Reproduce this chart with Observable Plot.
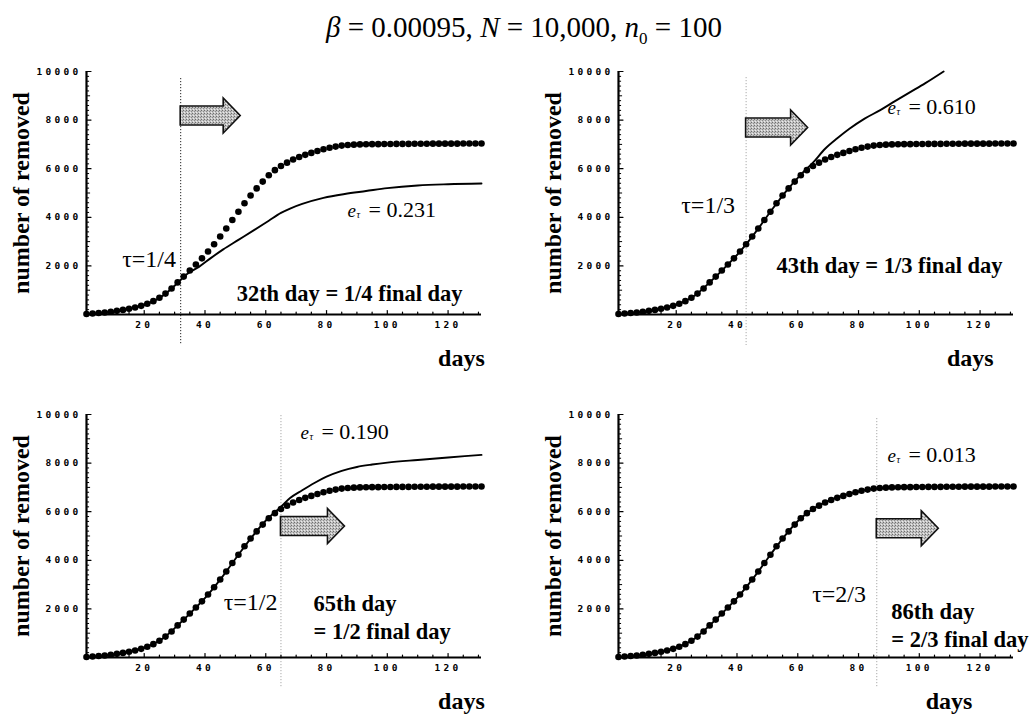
<!DOCTYPE html>
<html>
<head>
<meta charset="utf-8">
<script src="https://cdn.jsdelivr.net/npm/d3@7"></script>
<script src="https://cdn.jsdelivr.net/npm/@observablehq/plot@0.6"></script>
<style>
  body { margin: 0; background: #fff; }
  #fig { position: relative; width: 1034px; height: 715px; overflow: hidden;
         font-family: "Liberation Serif", "Times New Roman", serif; color: #000; }
  #title { position: absolute; left: 0; width: 1048px; top: 10px; text-align: center;
           font-size: 29px; line-height: 34px; white-space: nowrap; z-index: 2; }
  #title sub { font-size: 17px; }
  .panel { position: absolute; }
  .panel svg { overflow: visible; }
  [aria-label="x-axis tick label"] text,
  [aria-label="y-axis tick label"] text { letter-spacing: 3.3px; }
</style>
</head>
<body>
<div id="fig">
  <div id="title"><i>β</i> = 0.00095, <i>N</i> = 10,000, <i>n</i><sub>0</sub> = 100</div>
</div>
<script>
// Observed cumulative number of removed, sampled every other day
const obsDays = [1, 3, 5, 7, 9, 11, 13, 15, 17, 19, 21, 23, 25, 27, 29, 31, 33, 35, 37, 39,
  41, 43, 45, 47, 49, 51, 53, 55, 57, 59, 61, 63, 65, 67, 69, 71, 73, 75, 77, 79,
  81, 83, 85, 87, 89, 91, 93, 95, 97, 99, 101, 103, 105, 107, 109, 111, 113, 115, 117, 119,
  121, 123, 125, 127, 129, 131];
const obsRemoved = [20, 40, 60, 85, 115, 150, 190, 235, 290, 355, 440, 550, 690, 860, 1070, 1320, 1560, 1810, 2060, 2310,
  2590, 2890, 3210, 3540, 3890, 4230, 4580, 4900, 5190, 5470, 5730, 5940, 6110, 6250, 6380, 6480, 6570, 6650, 6730, 6800,
  6860, 6910, 6950, 6975, 6990, 7000, 7005, 7010, 7010, 7015, 7015, 7020, 7020, 7020, 7025, 7025, 7025, 7030, 7030, 7030,
  7030, 7030, 7035, 7035, 7035, 7035];

// Model curves fitted on data up to the cut-off day (tau = 1/4, 1/3, 1/2, 2/3)
const fitDays1 = [1, 6, 11, 16, 21, 26, 30, 34, 38, 42, 46, 51, 56, 61, 65, 68, 72, 79, 86, 93, 100, 110, 120, 131];
const fitVals1 = [20, 70, 150, 260, 430, 760, 1180, 1660, 1960, 2330, 2680, 3070, 3460, 3860, 4180, 4360, 4550, 4800, 4960, 5080, 5200, 5310, 5360, 5390];

const fitDays2 = [1, 6, 11, 16, 21, 26, 31, 36, 41, 46, 51, 56, 61, 65, 69, 73, 77, 82, 87, 92, 97, 102, 108];
const fitVals2 = [20, 70, 150, 260, 440, 770, 1320, 1930, 2590, 3370, 4230, 5050, 5760, 6250, 6820, 7250, 7640, 8060, 8400, 8780, 9150, 9520, 10000];

const fitDays3 = [1, 6, 11, 16, 21, 26, 31, 36, 41, 46, 51, 56, 61, 65, 68, 72, 76, 80, 85, 90, 95, 100, 110, 120, 131];
const fitVals3 = [20, 70, 150, 260, 440, 770, 1320, 1930, 2590, 3370, 4230, 5050, 5760, 6200, 6560, 6880, 7180, 7440, 7680, 7840, 7940, 8020, 8130, 8230, 8340];

const fitDays4 = [1, 6, 11, 16, 21, 26, 31, 36, 41, 46, 51, 56, 61, 66, 71, 76, 81, 86, 91, 100, 110, 120, 131];
const fitVals4 = [20, 70, 150, 260, 440, 770, 1320, 1930, 2590, 3370, 4230, 5050, 5730, 6190, 6500, 6700, 6860, 6960, 7010, 7030, 7040, 7040, 7040];

// Per-panel parameters
const tauLabels = ["τ=1/4", "τ=1/3", "τ=1/2", "τ=2/3"];
const cutDays = [32, 43, 65, 86];
const errValues = ["0.231", "0.610", "0.190", "0.013"];
const dayNotes = [["32th day = 1/4 final day"], ["43th day = 1/3 final day"],
                  ["65th day", "= 1/2 final day"], ["86th day", "= 2/3 final day"]];

const yTicks = [2000, 4000, 6000, 8000, 10000];
const xTicks = [20, 40, 60, 80, 100, 120];

const obs = obsDays.map((d, i) => ({day: d, value: obsRemoved[i]}));
const fits = [[fitDays1, fitVals1], [fitDays2, fitVals2], [fitDays3, fitVals3], [fitDays4, fitVals4]]
  .map(([ds, vs]) => ds.map((d, i) => ({day: d, value: vs[i]})));

// Placement of the annotations of each panel, in data units
const layout = [
  {left: 0,   top: 50,  tau: [21.6, 2284], note: {x: 87.6, y: [844], anchor: "middle"},
   err: [86.9, 4300], arrow: [8170, 60], daysX: 124.4, daysDy: 51, ruleColor: "#222", ruleTop: 7},
  {left: 532, top: 50,  tau: [30.5, 4486], note: {x: 90.2, y: [2016], anchor: "middle"},
   err: [89.5, 8560], arrow: [7675, 62], daysX: 116.8, daysDy: 51, ruleColor: "#aaa", ruleTop: 6},
  {left: 0,   top: 393, tau: [55.0, 2263], note: {x: 75.7, y: [2222, 1070], anchor: "start"},
   err: [71.4, 9300], arrow: [5390, 64], daysX: 124.4, daysDy: 51, ruleColor: "#aaa", ruleTop: 1},
  {left: 532, top: 393, tau: [73.6, 2613], note: {x: 90.8, y: [1893, 741], anchor: "start"},
   err: [89.5, 8354], arrow: [5300, 62], daysX: 109.8, daysDy: 51, ruleColor: "#aaa", ruleTop: 4}
];

const serif = "Liberation Serif, Times New Roman, serif";
const mono = "DejaVu Sans Mono, Liberation Mono, monospace";

// Plain tick stroke for Plot.vector
const tickShape = {draw(context, l) { context.moveTo(0, 0); context.lineTo(0, -l); }};

// Grey stippled block arrow pointing right, starting at the cut-off day
function blockArrow(day, level, len, id) {
  return (index, scales) => {
    const x0 = scales.x(day), y0 = scales.y(level);
    const bh = 9.5, hh = 17.5, hl = 17;
    const g = d3.create("svg:g");
    const pat = g.append("defs").append("pattern")
      .attr("id", id).attr("width", 3).attr("height", 3).attr("patternUnits", "userSpaceOnUse");
    pat.append("rect").attr("width", 3).attr("height", 3).attr("fill", "#c2c2c2");
    pat.append("rect").attr("x", 0).attr("y", 0).attr("width", 1).attr("height", 1).attr("fill", "#6e6e6e");
    pat.append("rect").attr("x", 2).attr("y", 1).attr("width", 1).attr("height", 1).attr("fill", "#8c8c8c");
    pat.append("rect").attr("x", 1).attr("y", 2).attr("width", 1).attr("height", 1).attr("fill", "#ececec");
    const pts = [[x0, y0 - bh], [x0 + len - hl, y0 - bh], [x0 + len - hl, y0 - hh], [x0 + len, y0],
                 [x0 + len - hl, y0 + hh], [x0 + len - hl, y0 + bh], [x0, y0 + bh]];
    g.append("path")
      .attr("d", "M" + pts.map(p => p.join(",")).join("L") + "Z")
      .attr("fill", `url(#${id})`).attr("stroke", "#111").attr("stroke-width", 1.6)
      .attr("stroke-linejoin", "miter");
    return g.node();
  };
}

// Tick positions along the axes
const yMinor = d3.range(200, 10001, 200).filter(d => d % 1000 !== 0);
const yMid = d3.range(1000, 10001, 2000);
const xMinor = d3.range(5, 131, 5).filter(d => d % 20 !== 0);

const fig = document.getElementById("fig");

layout.forEach((L, k) => {
  const cut = cutDays[k];
  const marks = [
    // cut-off day
    Plot.ruleX([cut], {stroke: L.ruleColor, strokeWidth: 1, strokeDasharray: "1.2,1.8",
                       insetTop: L.ruleTop, insetBottom: -31}),
    // axis lines and small inward ticks
    Plot.ruleX([1], {stroke: "#000", strokeWidth: 2.2}),
    Plot.ruleY([0], {stroke: "#000", strokeWidth: 2.2}),
    Plot.vector(yMinor, {x: 1, y: d => d, rotate: 90, anchor: "start", shape: tickShape,
      length: 2.2, stroke: "#000", strokeWidth: 1}),
    Plot.vector(yMid, {x: 1, y: d => d, rotate: 90, anchor: "start", shape: tickShape,
      length: 3.2, stroke: "#000", strokeWidth: 1}),
    Plot.vector(yTicks, {x: 1, y: d => d, rotate: 90, anchor: "start", shape: tickShape,
      length: 4.5, stroke: "#000", strokeWidth: 1.2}),
    Plot.vector(xMinor, {x: d => d, y: 0, rotate: 0, anchor: "start", shape: tickShape,
      length: 2.5, stroke: "#000", strokeWidth: 1.2}),
    Plot.vector(xTicks, {x: d => d, y: 0, rotate: 0, anchor: "start", shape: tickShape,
      length: 4, stroke: "#000", strokeWidth: 1.2}),
    Plot.axisY({ticks: yTicks, tickSize: 0, tickPadding: 5, tickFormat: d => String(d), label: null,
      fontFamily: mono, fontWeight: "bold", fontSize: 9.5}),
    Plot.axisX({ticks: xTicks, tickSize: 0, tickPadding: 7, tickFormat: d => String(d), label: null,
      fontFamily: mono, fontWeight: "bold", fontSize: 9.5}),
    // model curve and observations
    Plot.line(fits[k], {x: "day", y: "value", stroke: "#000", strokeWidth: 1.9, curve: "monotone-x"}),
    Plot.dot(obs, {x: "day", y: "value", r: 3.3, fill: "#000", stroke: "none"}),
    // arrow
    blockArrow(cut, L.arrow[0], L.arrow[1], "stipple" + k),
    // labels
    Plot.text(["number of removed"], {x: [-20.5], rotate: -90, textAnchor: "middle", lineAnchor: "middle",
      fontFamily: serif, fontWeight: "bold", fontSize: 24}),
    Plot.text(["days"], {x: [L.daysX], frameAnchor: "bottom", lineAnchor: "bottom", dy: L.daysDy,
      fontFamily: serif, fontWeight: "bold", fontSize: 24}),
    Plot.text([tauLabels[k]], {x: [L.tau[0]], y: [L.tau[1]], fontFamily: serif, fontSize: 24}),
    Plot.text(dayNotes[k], {x: L.note.x, y: (d, i) => L.note.y[i], textAnchor: L.note.anchor,
      fontFamily: serif, fontWeight: "bold", fontSize: 22.5}),
    Plot.text(["e"], {x: [L.err[0]], y: [L.err[1]], textAnchor: "start", dy: 1,
      fontFamily: serif, fontStyle: "italic", fontSize: 19}),
    Plot.text(["τ"], {x: [L.err[0]], y: [L.err[1]], textAnchor: "start", dx: 9, dy: 5,
      fontFamily: serif, fontStyle: "italic", fontSize: 10}),
    Plot.text(["= " + errValues[k]], {x: [L.err[0]], y: [L.err[1]], textAnchor: "start", dx: 21,
      fontFamily: serif, fontSize: 22})
  ];

  const svg = Plot.plot({
    width: 502, height: 318,
    marginLeft: 86, marginRight: 21, marginTop: 21, marginBottom: 54,
    x: {domain: [1, 131]},
    y: {domain: [0, 10000]},
    style: {fontFamily: serif, background: "transparent", overflow: "visible", color: "#000"},
    marks
  });
  const holder = document.createElement("div");
  holder.className = "panel";
  holder.style.left = L.left + "px";
  holder.style.top = L.top + "px";
  holder.appendChild(svg);
  fig.appendChild(holder);
});
</script>
</body>
</html>
